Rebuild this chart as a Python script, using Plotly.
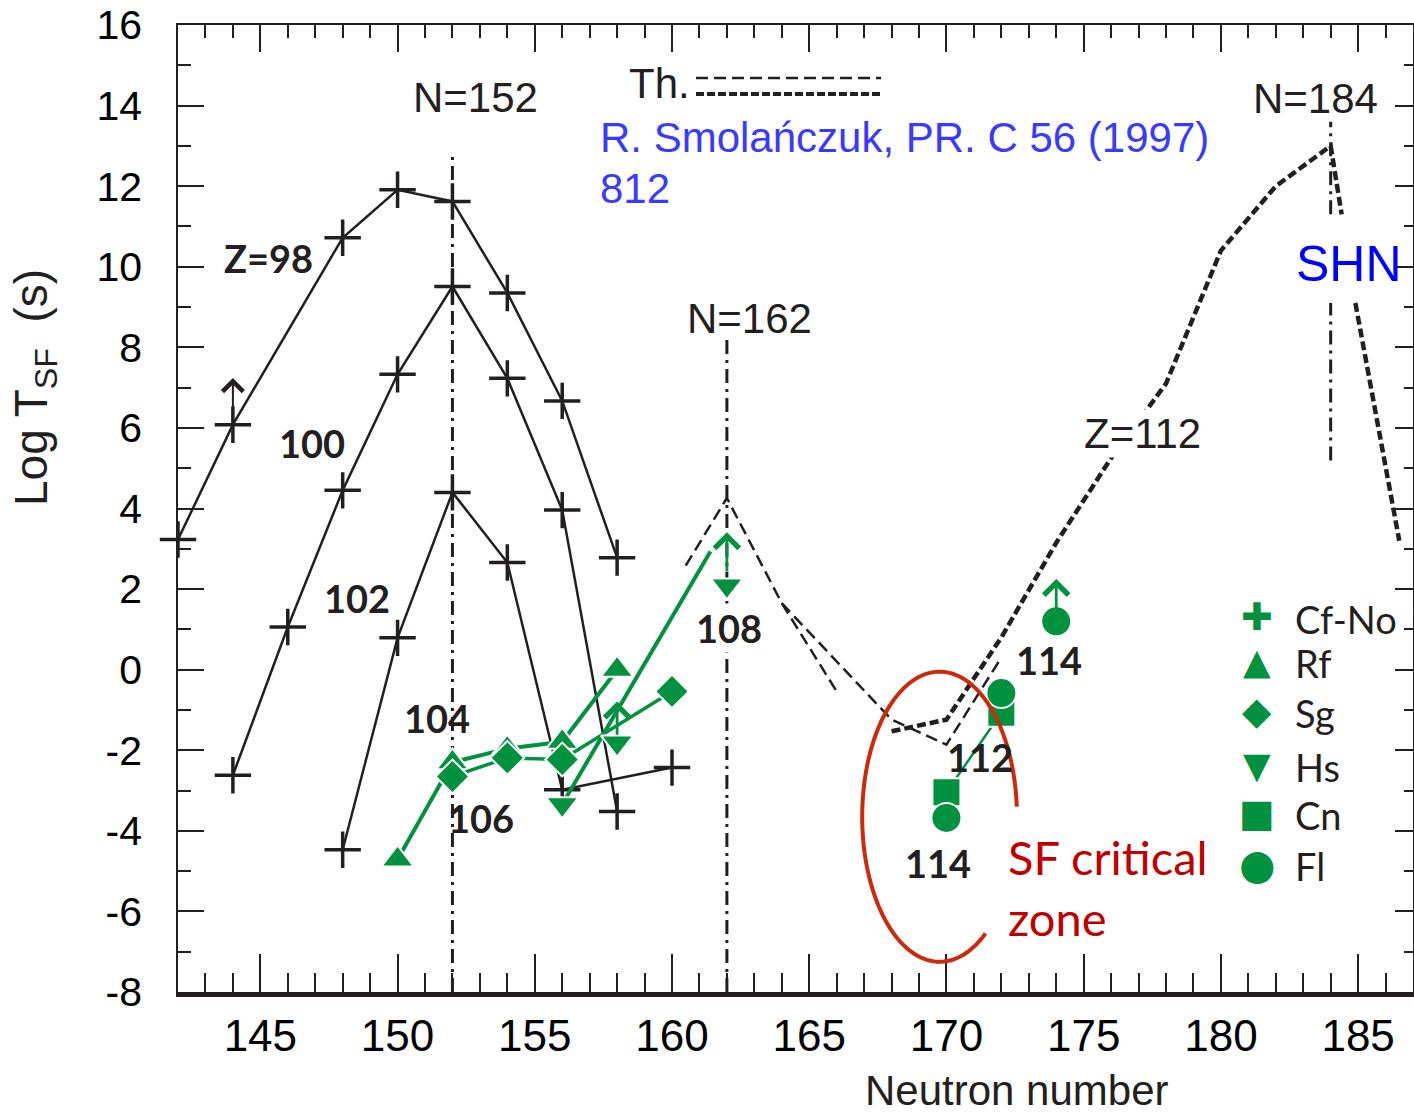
import numpy as np
import plotly.graph_objects as go

# ---------------- data: log10 of SF half-life (s) vs neutron number ----------------
# Z=98 (Cf)
cf_n = [142, 144, 148, 150, 152, 154, 156, 158]
cf_t = [3.23, 6.08, 10.72, 11.91, 11.62, 9.35, 6.67, 2.78]
# Z=100 (Fm)
fm_n = [144, 146, 148, 150, 152, 154, 156, 158]
fm_t = [-2.62, 1.06, 4.45, 7.33, 9.51, 7.23, 3.96, -3.52]
# Z=102 (No)
no_n = [148, 150, 152, 154, 156, 160]
no_t = [-4.47, 0.79, 4.40, 2.66, -2.98, -2.43]
# Z=104 (Rf)
rf_n = [150, 152, 154, 156, 158]
rf_t = [-4.71, -2.30, -1.96, -1.79, 0.0]
# Z=106 (Sg)
sg_n = [152, 154, 156, 160]
sg_t = [-2.65, -2.19, -2.23, -0.54]
# Z=108 (Hs)
hs_n = [156, 158, 162]
hs_t = [-3.34, -1.81, 2.09]
hs_trend_n = [156, 161.4]
hs_trend_t = [-3.34, 2.93]
# Z=112 (Cn)
cn_n = [170, 172]
cn_t = [-3.04, -1.07]
# Z=114 (Fl)
fl_n = [170, 172, 174]
fl_t = [-3.68, -0.58, 1.20]

# lower limits: neutron number, arrow start, arrow end
lim_black_n, lim_black_from, lim_black_to = [144], [6.08], [7.24]
lim_green_n = [158, 162, 174]
lim_green_from = [-1.65, 2.40, 1.49]
lim_green_to = [-0.79, 3.41, 2.25]

# theory (Smolanczuk 1997)
th_a_n = [160.5, 162, 164, 166]
th_a_t = [2.58, 4.26, 1.65, -0.54]
th_b_n = [164, 168, 170, 172]
th_b_t = [1.65, -1.24, -1.86, 0.30]
th112_n = [168, 170, 172, 174, 176, 178, 180, 182, 184, 184.4, None, 184.9, 186.5]
th112_t = [-1.53, -1.24, 0.80, 3.15, 5.25, 7.10, 10.40, 12.0, 13.0, 11.3, None, 9.1, 3.2]

# shell closures N=152, 162, 184 (dash-dot guides, split segments)
magic_n = [152, 162, 184, 184]
magic_seg_lo = [-8, -8, 11.3, 5.19]
magic_seg_hi = [12.86, 8.24, 13.6, 9.1]

# axis ticks
x_ticks = [145, 150, 155, 160, 165, 170, 175, 180, 185]
y_ticks = [-8, -6, -4, -2, 0, 2, 4, 6, 8, 10, 12, 14, 16]
y_tick_text = ["-8", "-6", "-4", "-2", "0", "2", "4", "6", "8", "10", "12", "14", "16"]
y_minor = [-7, -5, -3, -1, 1, 3, 5, 7, 9, 11, 13, 15]

# ---------------- styling ----------------
W, H = 1414, 1116
ML, MR, MT, MB = 178, 1, 25, 124
INK = "#231f20"
GREEN = "#00923f"
ARIAL = "Liberation Sans, Arial, sans-serif"
CALIBRI = "Lato, Carlito, Calibri, sans-serif"


def fx(p):
    return (p - ML) / (W - ML - MR)


def fy(p):
    return (H - MB - p) / (H - MT - MB)


fig = go.Figure()

# theory curves
fig.add_trace(go.Scatter(x=th_a_n, y=th_a_t, mode="lines",
                         line=dict(color=INK, width=2.5, dash="12px,6px")))
fig.add_trace(go.Scatter(x=th_b_n, y=th_b_t, mode="lines",
                         line=dict(color=INK, width=2.5, dash="12px,6px")))
fig.add_trace(go.Scatter(x=th112_n, y=th112_t, mode="lines", connectgaps=False,
                         line=dict(color=INK, width=4.5, dash="9px,4px")))

# Cf, Fm, No systematics
cross = dict(symbol="cross-thin", size=26, line=dict(color=INK, width=3.5), color=INK)
for n, t in [(cf_n, cf_t), (fm_n, fm_t), (no_n, no_t)]:
    fig.add_trace(go.Scatter(x=n, y=t, mode="lines+markers", cliponaxis=False,
                             line=dict(color=INK, width=2.5), marker=cross))

# heavier elements
halo = dict(color="white", width=2)
fig.add_trace(go.Scatter(x=hs_trend_n, y=hs_trend_t, mode="lines",
                         line=dict(color=GREEN, width=4)))
fig.add_trace(go.Scatter(x=rf_n, y=rf_t, mode="lines+markers",
                         line=dict(color=GREEN, width=4),
                         marker=dict(symbol="triangle-up", size=28, color=GREEN, line=halo)))
fig.add_trace(go.Scatter(x=sg_n, y=sg_t, mode="lines+markers",
                         line=dict(color=GREEN, width=3.5),
                         marker=dict(symbol="diamond", size=26, color=GREEN, line=halo)))
fig.add_trace(go.Scatter(x=hs_n, y=hs_t, mode="markers",
                         marker=dict(symbol="triangle-down", size=28, color=GREEN, line=halo)))
fig.add_trace(go.Scatter(x=cn_n, y=cn_t, mode="lines+markers",
                         line=dict(color=GREEN, width=2.5),
                         marker=dict(symbol="square", size=28, color=GREEN, line=halo)))
fig.add_trace(go.Scatter(x=fl_n, y=fl_t, mode="markers",
                         marker=dict(symbol="circle", size=30, color=GREEN, line=halo)))

# empty trace so the mirrored top/right axes get drawn
fig.add_trace(go.Scatter(x=[], y=[], xaxis="x2", yaxis="y2", hoverinfo="skip"))

shapes = []
for n, lo, hi in zip(magic_n, magic_seg_lo, magic_seg_hi):
    shapes.append(dict(type="line", xref="x", yref="y", x0=n, x1=n, y0=lo, y1=hi,
                       layer="below", line=dict(color=INK, width=3, dash="14px,6px,3px,6px")))

# "Th." key lines
shapes.append(dict(type="line", xref="paper", yref="paper", x0=fx(696), x1=fx(881),
                   y0=fy(78), y1=fy(78), line=dict(color=INK, width=2.5, dash="12px,6px")))
shapes.append(dict(type="line", xref="paper", yref="paper", x0=fx(696), x1=fx(881),
                   y0=fy(94), y1=fy(94), line=dict(color=INK, width=4, dash="8px,3px")))

# open ellipse around the SF critical zone
cx, cy, rx, ry = 169.75, -3.65, 2.82, 3.6
th = np.radians(np.linspace(4, 306.4, 120))
ex, ey = cx + rx * np.cos(th), cy + ry * np.sin(th)
path = "M " + " L ".join(f"{a:.4f},{b:.4f}" for a, b in zip(ex, ey))
shapes.append(dict(type="path", xref="x", yref="y", path=path,
                   line=dict(color="#cc2a0c", width=4)))

ann = []


def text(s, x, y, size, color=INK, family=ARIAL, xanchor="center", **kw):
    ann.append(dict(text=s, x=fx(x), y=fy(y), xref="paper", yref="paper",
                    showarrow=False, xanchor=xanchor, yanchor="middle",
                    font=dict(size=size, color=color, family=family), **kw))


# arrows for lower limits
for n, a, b in zip(lim_black_n, lim_black_from, lim_black_to):
    ann.append(dict(x=n, y=b, ax=n, ay=a, xref="x", yref="y", axref="x", ayref="y",
                    text="", showarrow=True, arrowhead=4, arrowsize=2,
                    arrowwidth=2, arrowcolor=INK))
for n, a, b in zip(lim_green_n, lim_green_from, lim_green_to):
    ann.append(dict(x=n, y=b, ax=n, ay=a, xref="x", yref="y", axref="x", ayref="y",
                    text="", showarrow=True, arrowhead=4, arrowsize=1.7,
                    arrowwidth=2.8, arrowcolor=GREEN))

text("N=152", 475, 98, 42)
text("N=162", 749, 319, 42)
text("N=184", 1315, 99, 42)
text("Th.", 627, 84, 42, xanchor="left")
text("R. Smolańczuk, PR. C 56 (1997)", 598, 137, 42, color="#3a3aff", xanchor="left")
text("812", 598, 188, 42, color="#3a3aff", xanchor="left")
text("SHN", 1349, 264, 50, color="#0000ff")
text("Z=112", 1142, 433, 42, bgcolor="white", borderpad=0)

for s, x, y in [("Z=98", 268, 258), ("100", 312, 443), ("102", 357, 598),
                ("104", 437, 718), ("106", 481, 818), ("112", 980, 757),
                ("114", 1049, 660), ("114", 938, 863)]:
    text(f"<b>{s}</b>", x, y, 38, family=CALIBRI)
text("<b>108</b>", 729, 628, 38, family=CALIBRI, bgcolor="white")

text("SF critical", 1006, 857, 47, color="#c00000", family=CALIBRI, xanchor="left")
text("zone", 1006, 918, 47, color="#c00000", family=CALIBRI, xanchor="left")

# key for measured elements
for sym, lab, y, sz in [("✚", "Cf-No", 617, 38), ("▲", "Rf", 661, 36),
                        ("◆", "Sg", 711, 38), ("▼", "Hs", 765, 36),
                        ("■", "Cn", 813, 38), ("●", "Fl", 864, 42)]:
    text(sym, 1257, y, sz, color=GREEN, family="DejaVu Sans")
    text(lab, 1293, y + 2, 38, family=CALIBRI, xanchor="left")

# axis titles
text("Neutron number", 1017, 1090, 42)
text("Log T<sub>SF</sub>&nbsp;&nbsp;(s)", 35, 388, 46, textangle=-90)

axis_common = dict(showgrid=False, zeroline=False, ticks="inside", tickcolor=INK,
                   linecolor=INK, showline=True)

fig.update_layout(
    width=W, height=H,
    margin=dict(l=ML, r=MR, t=MT, b=MB),
    paper_bgcolor="white", plot_bgcolor="white",
    showlegend=False,
    xaxis=dict(range=[142, 187], tickmode="array", tickvals=x_ticks,
               ticklen=38, tickwidth=1.5, linewidth=4.5,
               tickfont=dict(family=ARIAL, size=44, color="black"),
               ticklabelstandoff=1,
               minor=dict(ticks="inside", dtick=1, tick0=142, ticklen=19,
                          tickwidth=1.5, tickcolor=INK),
               **axis_common),
    xaxis2=dict(range=[142, 187], overlaying="x", side="top", anchor="y2",
                showticklabels=False, tickmode="array", tickvals=x_ticks,
                ticklen=27, tickwidth=1.5, linewidth=1.5,
                minor=dict(ticks="inside", dtick=1, tick0=142, ticklen=13,
                           tickwidth=1.5, tickcolor=INK),
                **axis_common),
    yaxis=dict(range=[-8, 16], tickmode="array", tickvals=y_ticks, ticktext=y_tick_text,
               ticklen=26, tickwidth=1.5, linewidth=1.5,
               tickfont=dict(family=ARIAL, size=41, color="black"),
               ticklabelstandoff=26,
               minor=dict(ticks="inside", tickvals=y_minor, ticklen=13,
                          tickwidth=1.5, tickcolor=INK),
               **axis_common),
    yaxis2=dict(range=[-8, 16], overlaying="y", side="right", anchor="x2",
                showticklabels=False, tickmode="array", tickvals=y_ticks,
                ticklen=18, tickwidth=1.5, linewidth=1.5,
                minor=dict(ticks="inside", tickvals=y_minor, ticklen=9,
                           tickwidth=1.5, tickcolor=INK),
                **axis_common),
    shapes=shapes,
    annotations=ann,
)

fig.write_html("out.html")
